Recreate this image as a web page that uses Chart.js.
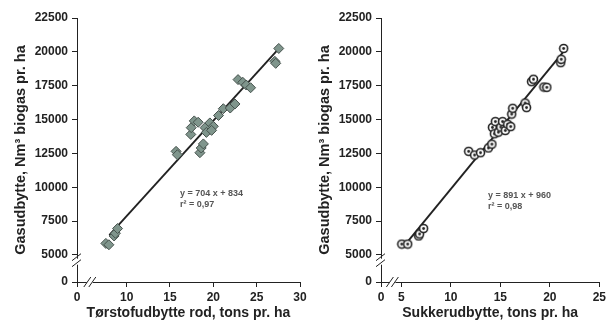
<!DOCTYPE html>
<html>
<head>
<meta charset="utf-8">
<script src="https://cdn.jsdelivr.net/npm/chart.js@4.4.1/dist/chart.umd.min.js"></script>
<style>
  html, body { margin: 0; padding: 0; background: #fff; }
  #wrap { position: relative; width: 609px; height: 324px; }
  .box { position: absolute; top: 0; height: 324px; }
</style>
</head>
<body>
<div id="wrap">
  <div class="box" style="left:0;width:310px"><canvas id="left"></canvas></div>
  <div class="box" style="left:304px;width:305px"><canvas id="right"></canvas></div>
</div>
<script>
// left panel: dry matter yield of the root vs gas yield
const dryMatter = [7.6, 7.95, 8.55, 8.7, 8.95, 15.7, 15.85, 17.4, 17.45, 17.8, 18.25,
  18.45, 18.6, 18.85, 19.05, 19.2, 19.6, 20.0, 19.8, 20.6, 21.15, 21.95, 22.5,
  22.85, 23.4, 23.8, 24.3, 27.1, 27.2, 27.55];
const gasLeft = [5850, 5750, 6400, 6600, 6950, 12650, 12400, 13900, 14400, 14900, 14800,
  12550, 12900, 13200, 14400, 14050, 14750, 14500, 14200, 15300, 15800, 15850, 16150,
  17950, 17750, 17550, 17350, 19300, 19150, 20250];

// right panel: sugar yield vs gas yield
const sugar = [5.05, 5.65, 6.75, 6.85, 7.25, 11.8, 12.4, 13.0, 13.8, 14.15, 14.2, 14.5,
  14.4, 14.8, 15.05, 15.23, 15.5, 15.75, 16.05, 16.15, 16.25, 17.5, 17.65, 18.15, 18.35,
  19.4, 19.7, 21.1, 21.15, 21.4];
const gasRight = [5800, 5800, 6400, 6550, 6950, 12650, 12380, 12550, 12900, 13180, 14420, 14850,
  13950, 14070, 14440, 14850, 14190, 14650, 14480, 15400, 15830, 16220, 15880, 17800, 17980,
  17400, 17380, 19200, 19450, 20250];

// fitted lines (end points)
const fitLeftX = [8.0, 27.5];
const fitLeftY = [6470, 20200];
const fitRightX = [5.5, 21.3];
const fitRightY = [5860, 19940];

const eqLeft = ['y = 704 x + 834', 'r\u00B2 = 0,97'];
const eqRight = ['y = 891 x + 960', 'r\u00B2 = 0,98'];

// broken axes: the first tick sits at a compressed spot but is labelled 0
const yTickValues = [3000, 5000, 7500, 10000, 12500, 15000, 17500, 20000, 22500];
const yTickLabels = ['0', '5000', '7500', '10000', '12500', '15000', '17500', '20000', '22500'];
const xLeftTickValues = [4.27, 10, 15, 20, 25, 30];
const xLeftTickLabels = ['0', '10', '15', '20', '25', '30'];
const xRightTickValues = [2.95, 5, 10, 15, 20, 25];
const xRightTickLabels = ['0', '5', '10', '15', '20', '25'];

const FONT = "'Liberation Sans', Arial, sans-serif";
const INK = '#222';

const eqLabel = {
  id: 'eqLabel',
  afterDatasetsDraw(chart, args, opts) {
    const { ctx, scales: { x, y } } = chart;
    ctx.save();
    ctx.font = 'bold 9px ' + FONT;
    ctx.fillStyle = '#555';
    ctx.textBaseline = 'middle';
    const px = x.getPixelForValue(opts.x);
    const py = y.getPixelForValue(opts.y);
    opts.lines.forEach((t, i) => ctx.fillText(t, px, py + i * 11));
    ctx.restore();
  }
};

const axisBreaks = {
  id: 'axisBreaks',
  afterDraw(chart, args, opts) {
    const { ctx, scales: { x, y }, chartArea } = chart;
    ctx.save();
    ctx.strokeStyle = INK;
    ctx.lineWidth = 1;
    // y axis break
    const ax = chartArea.left, yb = y.getPixelForValue(opts.y);
    ctx.fillStyle = '#fff';
    ctx.fillRect(ax - 2, yb - 3, 4, 6);
    ctx.beginPath();
    ctx.moveTo(ax - 5, yb - 1); ctx.lineTo(ax + 4, yb - 8);
    ctx.moveTo(ax - 5, yb + 5); ctx.lineTo(ax + 4, yb - 2);
    ctx.stroke();
    // x axis break
    const ay = chartArea.bottom, xb = x.getPixelForValue(opts.x);
    ctx.fillRect(xb - 3, ay - 2, 6, 4);
    ctx.beginPath();
    ctx.moveTo(xb - 6, ay + 5); ctx.lineTo(xb + 1, ay - 5);
    ctx.moveTo(xb - 1, ay + 5); ctx.lineTo(xb + 6, ay - 5);
    ctx.stroke();
    ctx.restore();
  }
};

function ringDot() {
  const c = document.createElement('canvas');
  c.width = 11; c.height = 11;
  const g = c.getContext('2d');
  g.beginPath(); g.arc(5.5, 5.5, 4, 0, Math.PI * 2);
  g.fillStyle = '#fff'; g.fill();
  g.lineWidth = 1.6; g.strokeStyle = '#222'; g.stroke();
  g.beginPath(); g.arc(5.5, 5.5, 1.4, 0, Math.PI * 2);
  g.fillStyle = '#222'; g.fill();
  return c;
}

function pairs(xs, ys) {
  return xs.map((v, i) => ({ x: v, y: ys[i] }));
}

function makeChart(id, cfg) {
  return new Chart(document.getElementById(id), {
    type: 'scatter',
    data: {
      datasets: [
        {
          type: 'line',
          data: pairs(cfg.fitX, cfg.fitY),
          borderColor: INK,
          borderWidth: 1.9,
          pointRadius: 0,
          order: 2
        },
        Object.assign({ data: pairs(cfg.xs, cfg.ys), order: 1 }, cfg.marker)
      ]
    },
    options: {
      responsive: true,
      maintainAspectRatio: false,
      animation: false,
      events: [],
      layout: { padding: { top: 18, right: cfg.padRight, left: 0, bottom: 0 } },
      plugins: {
        legend: { display: false },
        tooltip: { enabled: false },
        eqLabel: cfg.eq,
        axisBreaks: cfg.breaks
      },
      scales: {
        x: {
          type: 'linear',
          min: cfg.xTicks[0],
          max: cfg.xTicks[cfg.xTicks.length - 1],
          afterBuildTicks: s => { s.ticks = cfg.xTicks.map(v => ({ value: v })); },
          afterFit: s => { s.height = 42; },
          border: { color: INK, width: 1 },
          grid: { drawOnChartArea: false, color: INK, tickLength: 5 },
          ticks: {
            color: INK, padding: 3,
            font: { family: FONT, size: 12, weight: 'bold' },
            callback: (v, i) => cfg.xLabels[i]
          },
          title: {
            display: true, text: cfg.xTitle, color: INK,
            font: { family: FONT, size: 14, weight: 'bold' },
            padding: { top: 0, bottom: 2 }
          }
        },
        y: {
          min: 3000, max: 22500,
          afterBuildTicks: s => { s.ticks = yTickValues.map(v => ({ value: v })); },
          afterFit: s => { s.width = 77; },
          border: { color: INK, width: 1 },
          grid: { drawOnChartArea: false, color: INK, tickLength: 5 },
          ticks: {
            color: INK, padding: 4,
            font: { family: FONT, size: 12, weight: 'bold' },
            callback: (v, i) => yTickLabels[i]
          },
          title: {
            display: true, text: 'Gasudbytte, Nm\u00B3 biogas pr. ha', color: INK,
            font: { family: FONT, size: 14.5, weight: 'bold' },
            padding: { top: 12, bottom: 0 }
          }
        }
      }
    },
    plugins: [eqLabel, axisBreaks]
  });
}

makeChart('left', {
  xs: dryMatter, ys: gasLeft,
  fitX: fitLeftX, fitY: fitLeftY,
  xTicks: xLeftTickValues, xLabels: xLeftTickLabels,
  xTitle: 'T\u00F8rstofudbytte rod, tons pr. ha',
  padRight: 10,
  eq: { lines: eqLeft, x: 16.15, y: 9500 },
  breaks: { x: 5.75, y: 4500 },
  marker: {
    pointStyle: 'rectRot', pointRadius: 5,
    backgroundColor: '#7f958c', borderColor: '#46524d', borderWidth: 1
  }
});

makeChart('right', {
  xs: sugar, ys: gasRight,
  fitX: fitRightX, fitY: fitRightY,
  xTicks: xRightTickValues, xLabels: xRightTickLabels,
  xTitle: 'Sukkerudbytte, tons pr. ha',
  padRight: 7,
  eq: { lines: eqRight, x: 13.76, y: 9370 },
  breaks: { x: 4.1, y: 4500 },
  marker: { pointStyle: ringDot(), pointRadius: 5 }
});
</script>
</body>
</html>
